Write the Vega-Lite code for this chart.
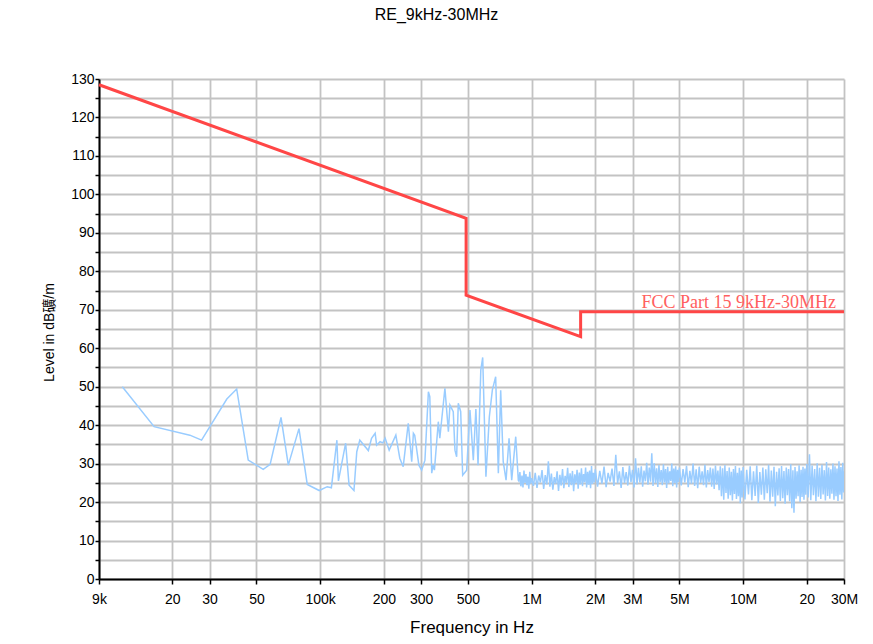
{
  "$schema": "https://vega.github.io/schema/vega-lite/v6.json",
  "autosize": "none",
  "width": 745,
  "height": 500,
  "padding": {"left": 99, "top": 79, "right": 29, "bottom": 65},
  "background": "white",
  "title": {"text": "RE_9kHz-30MHz", "font": "Liberation Sans", "fontSize": 16, "fontWeight": "normal", "color": "#000000", "anchor": "middle", "frame": "group", "dx": -35, "offset": 49},
  "config": {
    "view": {"stroke": null},
    "axis": {
      "labelFont": "Liberation Sans",
      "titleFont": "Liberation Sans, Noto Sans CJK SC",
      "labelFontSize": 14,
      "labelColor": "#000000",
      "titleColor": "#000000",
      "titleFontWeight": "normal",
      "grid": true,
      "gridColor": "#c3c3c3",
      "gridWidth": 1.8,
      "domainColor": "#000000",
      "domainWidth": 2,
      "tickColor": "#000000",
      "tickWidth": 1.5,
      "labelOverlap": false,
      "labelFlush": false
    }
  },
  "datasets": {
    "meas": [
      {"f": 11.6, "v": 50.0}, {"f": 16.4, "v": 39.6}, {"f": 24.2, "v": 37.4}, {"f": 27.5, "v": 36.1},
      {"f": 36.2, "v": 46.8}, {"f": 40.3, "v": 49.4}, {"f": 45.7, "v": 30.9}, {"f": 53.8, "v": 28.5},
      {"f": 58.0, "v": 29.8}, {"f": 65.3, "v": 42.0}, {"f": 70.7, "v": 29.6}, {"f": 79.4, "v": 39.1},
      {"f": 86.9, "v": 24.6}, {"f": 99.0, "v": 23.0}, {"f": 108, "v": 24.0}, {"f": 113, "v": 23.7},
      {"f": 120, "v": 36.1}, {"f": 122, "v": 25.5}, {"f": 132, "v": 35.3}, {"f": 137, "v": 24.4},
      {"f": 144.5, "v": 23.0}, {"f": 149, "v": 33.1}, {"f": 154, "v": 36.1}, {"f": 169, "v": 33.4},
      {"f": 175, "v": 36.6}, {"f": 182, "v": 37.9}, {"f": 185, "v": 34.8}, {"f": 192, "v": 35.7},
      {"f": 198, "v": 35.4}, {"f": 203, "v": 36.6}, {"f": 212, "v": 33.5}, {"f": 228, "v": 37.4},
      {"f": 238, "v": 31.4}, {"f": 247, "v": 29.2}, {"f": 261, "v": 40.5}, {"f": 271, "v": 30.5},
      {"f": 276, "v": 37.9}, {"f": 280, "v": 37.4}, {"f": 293, "v": 29.6}, {"f": 302, "v": 28.3},
      {"f": 313, "v": 30.9}, {"f": 325, "v": 48.7}, {"f": 330, "v": 47.4}, {"f": 337, "v": 27.5},
      {"f": 342, "v": 29.6}, {"f": 347, "v": 28.3}, {"f": 362, "v": 40.9}, {"f": 368, "v": 36.6},
      {"f": 389, "v": 49.6}, {"f": 404, "v": 38.3}, {"f": 411, "v": 45.2}, {"f": 426, "v": 43.5},
      {"f": 434, "v": 33.5}, {"f": 442, "v": 31.8}, {"f": 450, "v": 45.7}, {"f": 462, "v": 43.5},
      {"f": 472, "v": 27.0}, {"f": 493, "v": 28.3}, {"f": 511, "v": 43.9}, {"f": 530, "v": 30.9},
      {"f": 545, "v": 44.2}, {"f": 558, "v": 29.6}, {"f": 575, "v": 54.3}, {"f": 587, "v": 57.6},
      {"f": 608, "v": 26.6}, {"f": 631, "v": 42.2}, {"f": 652, "v": 49.1}, {"f": 676, "v": 52.6},
      {"f": 696, "v": 27.5}, {"f": 714, "v": 49.1}, {"f": 734, "v": 30.5}, {"f": 757, "v": 25.7},
      {"f": 782, "v": 36.6}, {"f": 805, "v": 25.7}, {"f": 841, "v": 37.0}, {"f": 865, "v": 25.7},
      {"f": 870, "v": 25.5}, {"f": 880, "v": 27.8}, {"f": 890, "v": 24.1}, {"f": 900, "v": 26.9},
      {"f": 910, "v": 23.8}, {"f": 920, "v": 28.2}, {"f": 930, "v": 25.0}, {"f": 940, "v": 27.3},
      {"f": 950, "v": 24.4}, {"f": 960, "v": 26.6}, {"f": 970, "v": 23.5}, {"f": 980, "v": 27.9},
      {"f": 990, "v": 24.8}, {"f": 1000, "v": 26.2},
      {"f": 1020, "v": 24.2}, {"f": 1040, "v": 27.6}, {"f": 1060, "v": 23.7}, {"f": 1080, "v": 26.9},
      {"f": 1100, "v": 25.1}, {"f": 1120, "v": 28.3}, {"f": 1140, "v": 23.4}, {"f": 1160, "v": 27.0},
      {"f": 1180, "v": 24.6}, {"f": 1200, "v": 30.6}, {"f": 1220, "v": 24.0}, {"f": 1240, "v": 27.4},
      {"f": 1260, "v": 23.2}, {"f": 1280, "v": 26.5}, {"f": 1300, "v": 24.8}, {"f": 1320, "v": 28.0},
      {"f": 1340, "v": 22.9}, {"f": 1360, "v": 27.1}, {"f": 1380, "v": 24.3}, {"f": 1400, "v": 28.6},
      {"f": 1420, "v": 23.6}, {"f": 1440, "v": 26.8}, {"f": 1460, "v": 25.0}, {"f": 1480, "v": 28.9},
      {"f": 1500, "v": 23.9}, {"f": 1520, "v": 27.5}, {"f": 1540, "v": 24.4}, {"f": 1560, "v": 28.1},
      {"f": 1580, "v": 22.8}, {"f": 1600, "v": 27.2}, {"f": 1620, "v": 24.9}, {"f": 1640, "v": 28.4},
      {"f": 1660, "v": 23.5}, {"f": 1680, "v": 27.7}, {"f": 1700, "v": 24.6}, {"f": 1720, "v": 28.8},
      {"f": 1740, "v": 24.1}, {"f": 1760, "v": 27.3}, {"f": 1780, "v": 25.2}, {"f": 1800, "v": 29.0},
      {"f": 1820, "v": 23.8}, {"f": 1840, "v": 27.9}, {"f": 1860, "v": 24.5}, {"f": 1880, "v": 28.2},
      {"f": 1900, "v": 23.6}, {"f": 1920, "v": 29.4}, {"f": 1940, "v": 24.7}, {"f": 1960, "v": 27.6},
      {"f": 1980, "v": 25.1}, {"f": 2000, "v": 28.5},
      {"f": 2050, "v": 24.0}, {"f": 2100, "v": 28.1}, {"f": 2150, "v": 24.8}, {"f": 2200, "v": 29.2},
      {"f": 2250, "v": 23.9}, {"f": 2300, "v": 27.6}, {"f": 2350, "v": 25.3}, {"f": 2400, "v": 28.7},
      {"f": 2450, "v": 24.2}, {"f": 2500, "v": 32.3}, {"f": 2550, "v": 24.9}, {"f": 2600, "v": 28.0},
      {"f": 2650, "v": 23.7}, {"f": 2700, "v": 29.1}, {"f": 2750, "v": 25.0}, {"f": 2800, "v": 27.8},
      {"f": 2850, "v": 24.3}, {"f": 2900, "v": 29.5}, {"f": 2950, "v": 25.2}, {"f": 3000, "v": 28.4},
      {"f": 3050, "v": 23.8}, {"f": 3100, "v": 31.4}, {"f": 3150, "v": 24.6}, {"f": 3200, "v": 28.9},
      {"f": 3250, "v": 25.1}, {"f": 3300, "v": 29.3}, {"f": 3350, "v": 24.0}, {"f": 3400, "v": 28.2},
      {"f": 3450, "v": 25.4}, {"f": 3500, "v": 30.2}, {"f": 3550, "v": 24.5}, {"f": 3600, "v": 29.0},
      {"f": 3650, "v": 25.3}, {"f": 3700, "v": 32.7}, {"f": 3750, "v": 24.2}, {"f": 3800, "v": 30.1},
      {"f": 3850, "v": 25.0}, {"f": 3900, "v": 28.8}, {"f": 3950, "v": 23.9}, {"f": 4000, "v": 29.6},
      {"f": 4050, "v": 25.2}, {"f": 4100, "v": 28.3}, {"f": 4150, "v": 24.4}, {"f": 4200, "v": 29.8},
      {"f": 4250, "v": 25.1}, {"f": 4300, "v": 28.6}, {"f": 4350, "v": 23.7}, {"f": 4400, "v": 29.2},
      {"f": 4450, "v": 24.9}, {"f": 4500, "v": 28.0}, {"f": 4550, "v": 25.5}, {"f": 4600, "v": 30.0},
      {"f": 4650, "v": 24.1}, {"f": 4700, "v": 28.7}, {"f": 4750, "v": 25.0}, {"f": 4800, "v": 29.3},
      {"f": 4850, "v": 23.8}, {"f": 4900, "v": 28.4}, {"f": 4950, "v": 25.2}, {"f": 5000, "v": 29.0},
      {"f": 5100, "v": 24.3}, {"f": 5200, "v": 28.6}, {"f": 5300, "v": 25.1}, {"f": 5400, "v": 29.4},
      {"f": 5500, "v": 23.9}, {"f": 5600, "v": 28.1}, {"f": 5700, "v": 24.8}, {"f": 5800, "v": 30.0},
      {"f": 5900, "v": 24.2}, {"f": 6000, "v": 28.5}, {"f": 6100, "v": 23.6}, {"f": 6200, "v": 29.2},
      {"f": 6300, "v": 25.0}, {"f": 6400, "v": 28.0}, {"f": 6500, "v": 24.4}, {"f": 6600, "v": 29.7},
      {"f": 6700, "v": 23.8}, {"f": 6800, "v": 28.3}, {"f": 6900, "v": 25.2}, {"f": 7000, "v": 29.0},
      {"f": 7100, "v": 24.0}, {"f": 7200, "v": 28.7}, {"f": 7300, "v": 23.4}, {"f": 7400, "v": 29.5},
      {"f": 7500, "v": 24.6}, {"f": 7600, "v": 28.2}, {"f": 7700, "v": 23.1}, {"f": 7800, "v": 29.3},
      {"f": 7900, "v": 21.5}, {"f": 8000, "v": 28.8}, {"f": 8100, "v": 20.6}, {"f": 8200, "v": 29.6},
      {"f": 8300, "v": 22.4}, {"f": 8400, "v": 28.1}, {"f": 8500, "v": 20.9}, {"f": 8600, "v": 29.0},
      {"f": 8700, "v": 21.8}, {"f": 8800, "v": 27.9}, {"f": 8900, "v": 20.4}, {"f": 9000, "v": 28.6},
      {"f": 9100, "v": 22.1}, {"f": 9200, "v": 29.4}, {"f": 9300, "v": 20.8}, {"f": 9400, "v": 27.6},
      {"f": 9500, "v": 21.5}, {"f": 9600, "v": 28.9}, {"f": 9700, "v": 19.7}, {"f": 9800, "v": 28.2},
      {"f": 9900, "v": 21.2}, {"f": 10000, "v": 29.1},
      {"f": 10200, "v": 20.7}, {"f": 10400, "v": 28.4}, {"f": 10600, "v": 22.0}, {"f": 10800, "v": 29.3},
      {"f": 11000, "v": 20.5}, {"f": 11200, "v": 28.0}, {"f": 11400, "v": 21.6}, {"f": 11600, "v": 29.5},
      {"f": 11800, "v": 19.8}, {"f": 12000, "v": 27.8}, {"f": 12200, "v": 21.9}, {"f": 12400, "v": 29.0},
      {"f": 12600, "v": 20.6}, {"f": 12800, "v": 28.5}, {"f": 13000, "v": 22.3}, {"f": 13200, "v": 29.7},
      {"f": 13400, "v": 20.1}, {"f": 13600, "v": 28.2}, {"f": 13800, "v": 21.4}, {"f": 14000, "v": 29.2},
      {"f": 14200, "v": 18.9}, {"f": 14400, "v": 27.9}, {"f": 14600, "v": 21.7}, {"f": 14800, "v": 28.8},
      {"f": 15000, "v": 20.3}, {"f": 15200, "v": 29.4}, {"f": 15400, "v": 21.0}, {"f": 15600, "v": 28.1},
      {"f": 15800, "v": 19.6}, {"f": 16000, "v": 29.0}, {"f": 16200, "v": 21.8}, {"f": 16400, "v": 28.6},
      {"f": 16600, "v": 20.2}, {"f": 16800, "v": 29.8}, {"f": 17000, "v": 18.4}, {"f": 17200, "v": 28.3},
      {"f": 17400, "v": 17.2}, {"f": 17600, "v": 29.1}, {"f": 17800, "v": 20.9}, {"f": 18000, "v": 28.0},
      {"f": 18200, "v": 21.5}, {"f": 18400, "v": 29.6}, {"f": 18600, "v": 20.0}, {"f": 18800, "v": 28.4},
      {"f": 19000, "v": 21.3}, {"f": 19200, "v": 29.2}, {"f": 19400, "v": 20.6}, {"f": 19600, "v": 28.7},
      {"f": 19800, "v": 21.9}, {"f": 20000, "v": 29.9},
      {"f": 20300, "v": 21.2}, {"f": 20600, "v": 32.4}, {"f": 20900, "v": 20.5}, {"f": 21200, "v": 29.5},
      {"f": 21500, "v": 21.8}, {"f": 21800, "v": 28.6}, {"f": 22100, "v": 20.2}, {"f": 22400, "v": 30.1},
      {"f": 22700, "v": 21.4}, {"f": 23000, "v": 28.9}, {"f": 23300, "v": 20.8}, {"f": 23600, "v": 29.7},
      {"f": 23900, "v": 22.0}, {"f": 24200, "v": 28.3}, {"f": 24500, "v": 20.4}, {"f": 24800, "v": 30.4},
      {"f": 25100, "v": 21.6}, {"f": 25400, "v": 29.0}, {"f": 25700, "v": 20.9}, {"f": 26000, "v": 28.5},
      {"f": 26300, "v": 22.2}, {"f": 26600, "v": 30.0}, {"f": 26900, "v": 20.6}, {"f": 27200, "v": 29.3},
      {"f": 27500, "v": 21.5}, {"f": 27800, "v": 28.7}, {"f": 28100, "v": 20.3}, {"f": 28400, "v": 30.6},
      {"f": 28700, "v": 21.9}, {"f": 29000, "v": 29.1}, {"f": 29300, "v": 20.7}, {"f": 29600, "v": 30.2},
      {"f": 29900, "v": 22.5}, {"f": 30000, "v": 28.0}
    ],
    "limit": [
      {"i": 1, "f": 9, "v": 128.5},
      {"i": 2, "f": 490, "v": 93.8},
      {"i": 3, "f": 490, "v": 73.8},
      {"i": 4, "f": 1705, "v": 63.0},
      {"i": 5, "f": 1705, "v": 69.5},
      {"i": 6, "f": 30000, "v": 69.5, "label": "FCC Part 15 9kHz-30MHz"}
    ]
  },
  "encoding": {
    "x": {
      "field": "f",
      "type": "quantitative",
      "scale": {"type": "log", "domain": [9, 30000], "nice": false},
      "axis": {
        "title": "Frequency in Hz",
        "titleFontSize": 17,
        "titlePadding": 13,
        "values": [9, 20, 30, 50, 100, 200, 300, 500, 1000, 2000, 3000, 5000, 10000, 20000, 30000],
        "labelExpr": "datum.value == 9 ? '9k' : datum.value == 100 ? '100k' : datum.value == 1000 ? '1M' : datum.value == 2000 ? '2M' : datum.value == 3000 ? '3M' : datum.value == 5000 ? '5M' : datum.value == 10000 ? '10M' : datum.value == 20000 ? '20' : datum.value == 30000 ? '30M' : format(datum.value, 'd')",
        "tickSize": 5,
        "labelPadding": 8
      }
    },
    "y": {
      "field": "v",
      "type": "quantitative",
      "scale": {"domain": [0, 130], "nice": false, "zero": true},
      "axis": {
        "title": "Level in dB礦/m",
        "titleFontSize": 14,
        "titleX": -43,
        "titleY": 253,
        "values": [0, 5, 10, 15, 20, 25, 30, 35, 40, 45, 50, 55, 60, 65, 70, 75, 80, 85, 90, 95, 100, 105, 110, 115, 120, 125, 130],
        "labelExpr": "datum.value % 10 == 0 ? datum.label : ''",
        "tickSize": 4,
        "labelPadding": 1
      }
    }
  },
  "layer": [
    {
      "data": {"name": "meas"},
      "mark": {"type": "line", "color": "#99ccff", "strokeWidth": 1.5, "clip": true}
    },
    {
      "data": {"name": "limit"},
      "mark": {"type": "line", "color": "#ff4646", "strokeWidth": 3, "strokeJoin": "miter"},
      "encoding": {"order": {"field": "i", "type": "quantitative"}}
    },
    {
      "data": {"name": "limit"},
      "transform": [{"filter": "isValid(datum.label)"}],
      "mark": {"type": "text", "font": "Liberation Serif", "fontSize": 18, "color": "#ff6060", "align": "right", "baseline": "alphabetic", "dx": -8, "dy": -4},
      "encoding": {"text": {"field": "label"}}
    }
  ]
}
